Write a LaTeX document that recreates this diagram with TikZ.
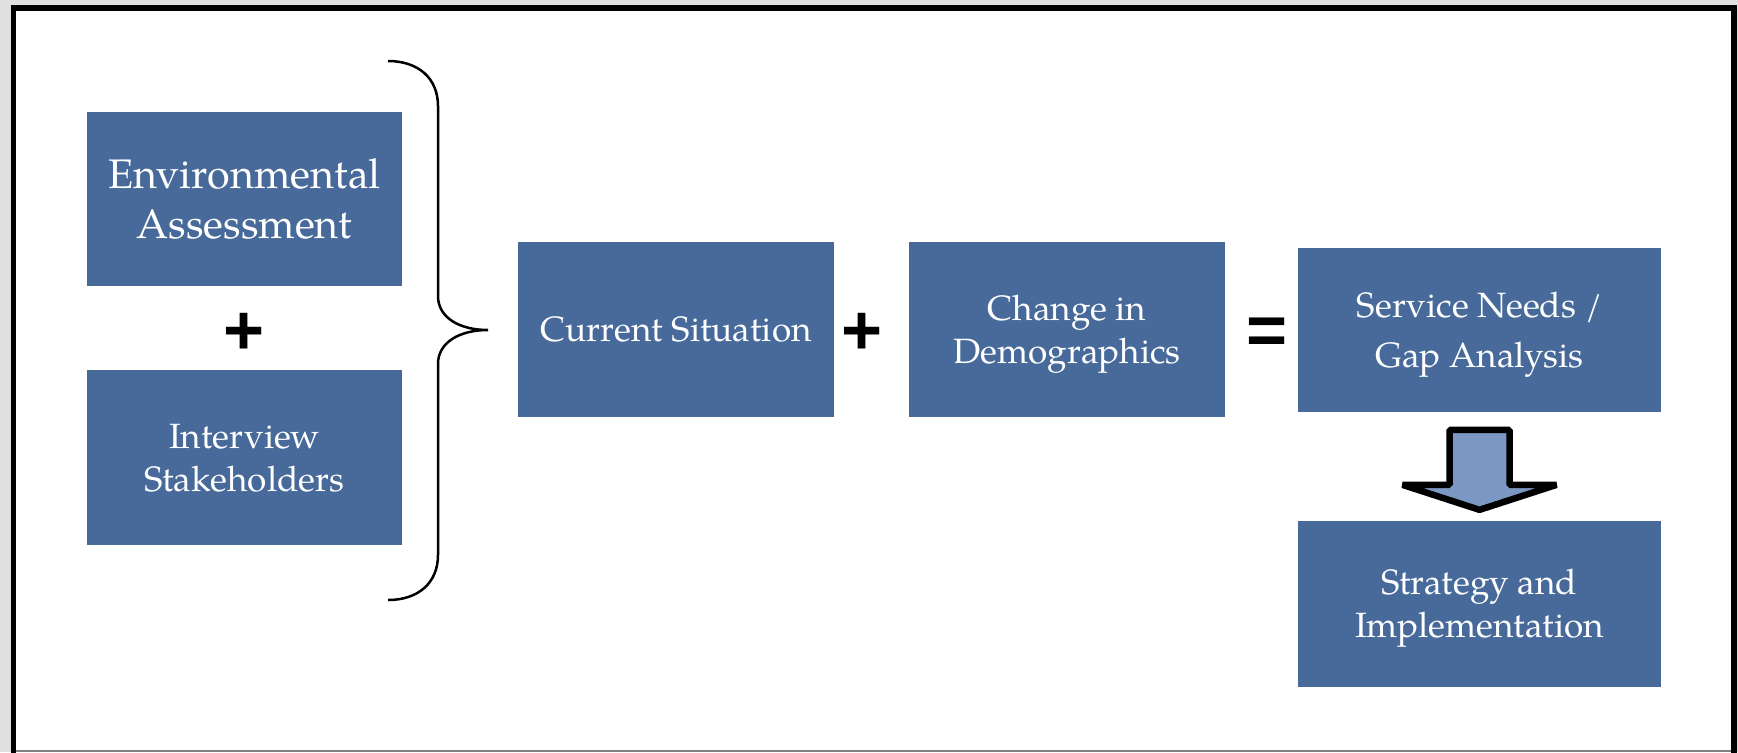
\documentclass[tikz,border=0pt]{standalone}
\usepackage{fontspec}
\setmainfont{TeX Gyre Pagella}
\setsansfont{Liberation Sans}
\usepackage{tikz}
\usetikzlibrary{positioning,calc}

\definecolor{boxblue}{RGB}{71,106,154}
\definecolor{arrowblue}{RGB}{122,152,195}
\definecolor{pagegray}{RGB}{224,224,224}

\begin{document}
\begin{tikzpicture}[x=0.02cm, y=-0.02cm,
		blk/.style={fill=boxblue, text=white, align=center, inner sep=0pt, text depth=0pt, font=\fontsize{20}{24.5}\selectfont},
		op/.style={inner sep=0pt, font=\sffamily\bfseries\fontsize{40}{40}\selectfont},
		brc/.style={line width=0.05cm},
		blkarrow/.style={fill=arrowblue, draw=black, line width=0.13cm, line join=bevel}
		]
		
		% ==========================================
		% Page and frame
		% ==========================================
		\clip (0,0) rectangle (1738,752);
		\fill[pagegray] (0,0) rectangle (1738,752);
		\fill[white] (13.5,7.75) rectangle (1734,752);
		\draw[line width=0.11cm] (13.5,800) |- (1734,7.75) -- (1734,800);
		\draw[gray, line width=0.04cm] (16,751) -- (1731,751);
		
		% ==========================================
		% Left column: two inputs
		% ==========================================
		\node[blk, minimum width=6.32cm, minimum height=3.48cm, text depth=, font=\fontsize{23.5}{28.5}\selectfont] (env) at (244.5,199) {Environmental\\Assessment};
		\node[op] (plus1) at (244.5,334) {+};
		\node[blk, minimum width=6.32cm, minimum height=3.5cm] (intv) at (244.5,457.5) {Interview\\Stakeholders};
		
		% -- brace --
		\draw[brc] (388,61) .. controls (418,61) and (438,78) .. (438,106)
			-- (438,296) .. controls (438,318) and (460,330) .. (488,330)
			.. controls (460,330) and (438,342) .. (438,364)
			-- (438,555) .. controls (438,583) and (418,600) .. (388,600);
		
		% ==========================================
		% Middle row
		% ==========================================
		\node[blk, minimum width=6.32cm, minimum height=3.5cm] (cursit) at (676,329.5) {Current Situation};
		\node[op] (plus2) at (862,334) {+};
		\node[blk, minimum width=6.32cm, minimum height=3.5cm] (change) at (1067,329.5) {Change in\\Demographics};
		\node[op] (eq) at (1267,336) {=};
		\node[blk, minimum width=7.26cm, minimum height=3.3cm] (service) at (1479.5,330) {Service Needs /\\[4pt]Gap Analysis};
		
		% ==========================================
		% Right column: result
		% ==========================================
		\node[blk, minimum width=7.26cm, minimum height=3.32cm] (strategy) at (1479.5,603.5) {Strategy and\\Implementation};
		
		% -- block arrow --
		\draw[blkarrow] ($(service.south)+(-30,17)$) -- ($(service.south)+(30,17)$)
			-- ($(service.south)+(30,72)$) -- ($(service.south)+(77,72)$)
			-- ($(service.south)+(0,97)$) -- ($(service.south)+(-77,72)$)
			-- ($(service.south)+(-30,72)$) -- cycle;
		
	\end{tikzpicture}
\end{document}
